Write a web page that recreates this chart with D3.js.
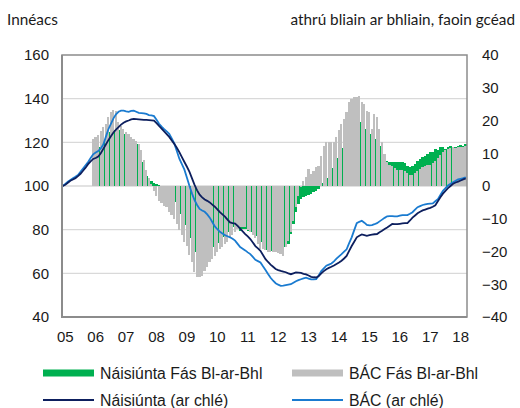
<!DOCTYPE html>
<html>
<head>
<meta charset="utf-8">
<script src="https://cdn.jsdelivr.net/npm/d3@7"></script>
<style>
  body { margin: 0; background: #fff; }
  svg { display: block; }
</style>
</head>
<body>
<svg width="520" height="408"></svg>
<script>
// months from Jan 2005 (index 0) to Apr 2018 (index 159)
const years = ["05","06","07","08","09","10","11","12","13","14","15","16","17","18"];

// Náisiúnta index (left axis)
const natIndex = [
  100, 100.6, 101.5, 102.4, 103, 103.6, 104.5, 105.6, 107, 108.4, 110, 111.3,
  112.4, 112.8, 113.5, 115, 117, 119, 121, 122.8, 124.5, 125.8, 127, 128.1,
  129, 129.6, 130, 130.5, 130.7, 130.6, 130.5, 130.4, 130.3, 130.3, 130.2, 130.1,
  130, 128.8, 127.5, 126.3, 125, 123.8, 122.5, 120.8, 119.3, 117.5, 115.5, 113.2,
  111, 108.8, 106.5, 103.5, 100.5, 98, 96, 94.8, 93.8, 93.2, 92.5, 91.5,
  90.5, 89.3, 88, 87, 86, 84.6, 83.3, 83, 82.8, 81.7, 80.5, 79.2,
  78, 76.9, 75.7, 74.1, 72.5, 71.4, 70.3, 68.4, 66.5, 65.2, 64, 63,
  62, 61.5, 61.1, 60.8, 60.5, 60, 59.6, 60, 60.4, 60.3, 60.2, 59.8,
  59.5, 59, 58.4, 58.2, 58.1, 58.8, 60, 61, 61.9, 62.5, 63, 63.6,
  64.3, 65, 65.8, 66.8, 68, 70.3, 72.5, 74.5, 76.5, 77.2, 77.8, 77.5,
  77.2, 77.5, 77.7, 77.9, 78, 78.8, 79.5, 80.3, 81, 81.8, 82.6, 82.5,
  82.5, 82.7, 82.9, 83, 83, 84.2, 85.5, 86.5, 87.5, 88.2, 88.8, 89.2,
  89.6, 90, 90.5, 91.2, 93, 94.8, 96.5, 97.8, 99, 100, 101, 101.6,
  102, 102.5, 103, 103.5
];

// BÁC index (left axis)
const dubIndex = [
  100, 101, 102, 102.8, 103.5, 104.2, 105, 106.5, 108, 109.5, 111, 112.8,
  114.5, 115.3, 116, 117.2, 119, 122.5, 126, 128.5, 131, 132.8, 134, 134.5,
  134.5, 134.2, 134, 134.4, 134.5, 134, 133.5, 133.4, 133.3, 133, 132.5, 132.3,
  132, 130.3, 128.5, 127.2, 126, 125, 123.9, 121.8, 119.5, 116, 112.5, 110,
  107.5, 103.8, 100, 96.5, 93.5, 91.3, 89.5, 88.8, 88.2, 87, 85.5, 83.5,
  81.5, 80.2, 79, 78.2, 77.5, 77, 76.5, 75.8, 75, 73.5, 72, 71.3,
  70.5, 69.6, 68.8, 67.5, 66.2, 65.6, 65, 63.2, 61.5, 59.7, 58, 56.6,
  55.5, 54.8, 54.3, 54.4, 54.6, 54.8, 55, 55.7, 56.4, 56.9, 57.3, 57.7,
  58, 57.6, 57.2, 57.2, 57.3, 59, 61, 62.3, 63.5, 64, 64.5, 65.5,
  66.7, 67.8, 68.8, 69.9, 71, 73.8, 76.5, 79.8, 83, 83.6, 84.1, 83.2,
  82.2, 82, 82.1, 82.5, 83, 83.8, 84.6, 85.4, 86.1, 86.2, 86.2, 86.1,
  86.1, 86.4, 86.7, 86.7, 86.7, 87.3, 88, 89.2, 90.3, 90.8, 91.3, 91.6,
  91.8, 91.9, 92, 93, 94, 95.9, 97.8, 99, 100.2, 101, 101.7, 102.4,
  103, 103.3, 103.6, 104
];

// year-on-year growth, from Jan 2006 (index 12), right axis
const natYoY = [
  13.3, 12.5, 12, 12.8, 14, 15.5, 16.4, 16.8, 17.2, 17.4, 17, 16.5,
  15.9, 15.2, 14.8, 14.3, 13.5, 12.8, 9.8, 7.2, 4.7, 3.2, 2.1, 1.4,
  0.9, 0.6, 0.4, -0.5, -1, -2, -2.6, -3.5, -5, -7, -8.5, -10.5,
  -12, -14, -16, -18, -20, -20.8, -21.3, -21.5, -21.3, -20.5, -19.5, -18.7,
  -18.7, -17.5, -16.5, -15.7, -15, -14, -13, -12.6, -12.8, -13.2, -13.6, -13.2,
  -13.1, -13.6, -14, -14.6, -15.2, -16.2, -17, -18.7, -19.5, -19.8, -19.7, -19.7,
  -19.7, -19.5, -19.2, -18.7, -18.7, -17.7, -14.6, -11.6, -8, -5.5, -4, -3.5,
  -3, -2.6, -2.4, -1.8, -1.4, -0.9, 0.8, 1.6, 2.5, 3.7, 5.5, 7,
  8.7, 10.2, 11.5, 13, 14.3, 15.8, 17.5, 19.4, 19.9, 19.6, 18.9, 17.5,
  16.5, 16, 15.9, 14.5, 13.5, 12.3, 10.3, 9, 7.7, 7.2, 7.4, 7.2,
  7.3, 7.2, 7.2, 7, 6.2, 5.7, 6, 6.7, 7.7, 8.2, 9, 9.3,
  9.8, 10.3, 10.5, 11.3, 11, 11.8, 11.8, 11.3, 11.8, 12.3, 11.8, 12,
  12.3, 12.5, 12.3, 12.8
];

const dubYoY = [
  14.3, 15, 15.5, 16.9, 17.9, 18.9, 21, 22.5, 23.2, 23, 19.5, 18.4,
  17.4, 16.4, 15.9, 14.9, 14.3, 13.8, 12.8, 11, 8, 5, 2.5, 0.5,
  -1.4, -3, -4.5, -5.2, -6, -6.5, -8, -9, -10, -11.6, -13.5, -15,
  -17, -18.2, -21, -23.3, -26.3, -27.9, -27.9, -27.4, -26, -24.8, -23.3, -22.3,
  -21.3, -20.2, -19.2, -18.5, -17.7, -17.2, -15.7, -14.9, -14.1, -13.1, -12.6, -12.6,
  -12.6, -13.5, -14.1, -15, -16, -17.7, -19.2, -19.2, -19.5, -20, -20.2, -20.2,
  -20.2, -20.5, -20.8, -21.3, -18.7, -16.7, -14.1, -10.6, -6.5, -3, -0.4, 1.5,
  2.6, 5.2, 3.7, 4.5, 5.7, 6.2, 9.3, 12.3, 13.3, 13.3, 13.3, 13.5,
  14.9, 17, 18.9, 20.5, 22.5, 25.5, 26.6, 27.1, 27.3, 27.6, 25.5, 25,
  23, 22.5, 17.4, 22, 21, 17.4, 13.3, 9.8, 7.2, 6.5, 6, 5.5,
  5, 4.8, 5, 4.5, 4, 3.5, 3.5, 4, 4.6, 5.2, 5.8, 6.2,
  6.4, 6.5, 7, 7.5, 8.5, 9.5, 10.5, 11, 11.3, 11.5, 11.8, 11.7,
  11.8, 12, 11.8, 12.2
];
const yoyStart = 12;

const leftTicks = [40, 60, 80, 100, 120, 140, 160];
const rightTicks = [-40, -30, -20, -10, 0, 10, 20, 30, 40];

const svg = d3.select("svg");
const plotL = 62, plotR = 467, plotT = 55, plotB = 317;

const x = d3.scaleLinear().domain([-0.3, 159.5]).range([plotL, plotR]);
const yL = d3.scaleLinear().domain([40, 160]).range([plotB, plotT]);
const yR = d3.scaleLinear().domain([-40, 40]).range([plotB, plotT]);

const tickFont = "'Liberation Sans', Arial, sans-serif";
const titleFont = "Lato, 'Open Sans', sans-serif";

// gridlines
svg.append("g")
  .selectAll("line")
  .data(leftTicks.slice(1, -1))
  .enter().append("line")
    .attr("x1", plotL).attr("x2", plotR)
    .attr("y1", d => yL(d)).attr("y2", d => yL(d))
    .attr("stroke", "#d9d9d9")
    .attr("stroke-width", 1.3);

const bw = x(1) - x(0);

// Náisiúnta bars (behind)
svg.append("g")
  .attr("shape-rendering", "crispEdges")
  .selectAll("rect")
  .data(natYoY)
  .enter().append("rect")
    .attr("x", (d, i) => x(i + yoyStart) - bw / 2)
    .attr("width", bw)
    .attr("y", d => yR(Math.max(0, d)))
    .attr("height", d => Math.abs(yR(d) - yR(0)))
    .attr("fill", "#00b050");

// BÁC bars (front)
svg.append("g")
  .attr("shape-rendering", "crispEdges")
  .selectAll("rect")
  .data(dubYoY)
  .enter().append("rect")
    .attr("x", (d, i) => x(i + yoyStart) - bw / 2)
    .attr("width", bw * 0.86)
    .attr("y", d => yR(Math.max(0, d)))
    .attr("height", d => Math.abs(yR(d) - yR(0)))
    .attr("fill", "#bfbfbf");

// index lines
const line = d3.line()
  .x((d, i) => x(i))
  .y(d => yL(d));

svg.append("path")
  .datum(dubIndex)
  .attr("d", line)
  .attr("fill", "none")
  .attr("stroke", "#1a7bd0")
  .attr("stroke-width", 1.8);

svg.append("path")
  .datum(natIndex)
  .attr("d", line)
  .attr("fill", "none")
  .attr("stroke", "#0d1f5e")
  .attr("stroke-width", 1.8);

// frame
svg.append("rect")
  .attr("x", plotL).attr("y", plotT)
  .attr("width", plotR - plotL).attr("height", plotB - plotT)
  .attr("fill", "none")
  .attr("stroke", "#8c8c8c")
  .attr("stroke-width", 1.5);
svg.append("path")
  .attr("d", `M${plotL},${plotT}V${plotB}H${plotR}`)
  .attr("fill", "none")
  .attr("stroke", "#8c8c8c")
  .attr("stroke-width", 2);

// left axis
svg.append("g")
  .attr("transform", `translate(${plotL - 10},0)`)
  .call(d3.axisLeft(yL).tickValues(leftTicks).tickSize(0).tickFormat(d3.format("d")))
  .call(g => g.select(".domain").remove())
  .selectAll("text")
    .attr("font-family", tickFont)
    .attr("font-size", 15)
    .attr("fill", "#1a1a1a");

// right axis
svg.append("g")
  .attr("transform", `translate(${plotR + 12},0)`)
  .call(d3.axisRight(yR).tickValues(rightTicks).tickSize(0).tickFormat(d3.format("d")))
  .call(g => g.select(".domain").remove())
  .selectAll("text")
    .attr("font-family", tickFont)
    .attr("font-size", 15)
    .attr("fill", "#1a1a1a");

// x labels
svg.append("g")
  .selectAll("text")
  .data(years)
  .enter().append("text")
    .attr("x", (d, i) => x(i * 12 + 1))
    .attr("y", 342)
    .attr("text-anchor", "middle")
    .attr("font-family", tickFont)
    .attr("font-size", 15)
    .attr("fill", "#1a1a1a")
    .text(d => d);

// axis titles
svg.append("text")
  .attr("x", 7).attr("y", 25)
  .attr("font-family", titleFont)
  .attr("font-size", 15.3)
  .attr("fill", "#1a1a1a")
  .text("Innéacs");
svg.append("text")
  .attr("x", 515).attr("y", 25)
  .attr("text-anchor", "end")
  .attr("font-family", titleFont)
  .attr("font-size", 15.3)
  .attr("fill", "#1a1a1a")
  .text("athrú bliain ar bhliain, faoin gcéad");

// legend
const legend = [
  {label: "Náisiúnta Fás Bl-ar-Bhl", color: "#00b050", kind: "bar", lx: 43, ly: 373},
  {label: "BÁC Fás Bl-ar-Bhl", color: "#bfbfbf", kind: "bar", lx: 292, ly: 373},
  {label: "Náisiúnta (ar chlé)", color: "#0d1f5e", kind: "line", lx: 43, ly: 400},
  {label: "BÁC (ar chlé)", color: "#1a7bd0", kind: "line", lx: 292, ly: 400}
];
const lg = svg.append("g").selectAll("g").data(legend).enter().append("g");
lg.filter(d => d.kind === "bar").append("rect")
  .attr("x", d => d.lx).attr("y", d => d.ly - 3.5)
  .attr("width", 51).attr("height", 7)
  .attr("fill", d => d.color);
lg.filter(d => d.kind === "line").append("line")
  .attr("x1", d => d.lx).attr("x2", d => d.lx + 51)
  .attr("y1", d => d.ly).attr("y2", d => d.ly)
  .attr("stroke", d => d.color)
  .attr("stroke-width", 2);
lg.append("text")
  .attr("x", d => d.lx + 57).attr("y", d => d.ly + 5.5)
  .attr("font-family", tickFont)
  .attr("font-size", 15.8)
  .attr("fill", "#1a1a1a")
  .text(d => d.label);
</script>
</body>
</html>
